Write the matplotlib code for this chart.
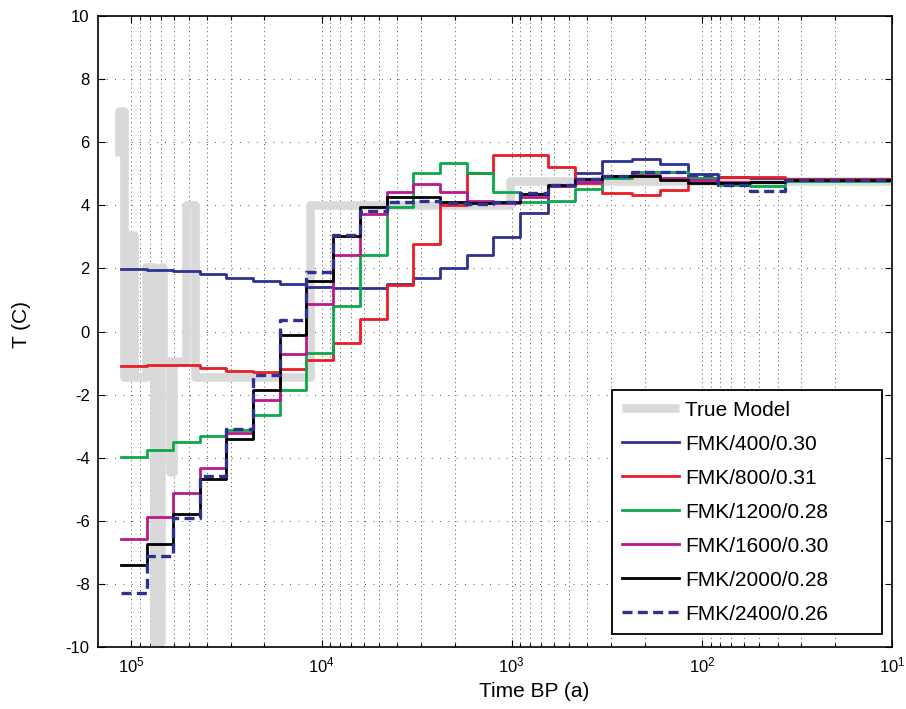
import matplotlib

matplotlib.use("Agg")

import matplotlib.pyplot as plt  # noqa: E402
import numpy as np  # noqa: E402
from matplotlib.ticker import LogLocator, NullFormatter  # noqa: E402

plt.rcParams["font.family"] = ["Liberation Sans", "DejaVu Sans"]
plt.rcParams["mathtext.fontset"] = "custom"
plt.rcParams["mathtext.rm"] = "Liberation Sans"
plt.rcParams["axes.unicode_minus"] = False

# layer boundaries (years BP), oldest first
EDGES = [113850, 83090, 60270, 43720, 31650, 22880, 16590, 12010, 8700, 6295,
         4556, 3302, 2389, 1729, 1253, 901, 643.5, 465.6, 337, 234, 166,
         118.5, 82.4, 55.9, 36.6, 10]

FMK_400 = [1.99, 1.96, 1.91, 1.82, 1.71, 1.61, 1.50, 1.42, 1.37, 1.37, 1.50,
           1.69, 2.00, 2.42, 3.00, 3.75, 4.62, 5.03, 5.40, 5.47, 5.32, 4.99,
           4.90, 4.85, 4.82]
FMK_800 = [-1.08, -1.05, -1.06, -1.15, -1.24, -1.28, -1.18, -0.90, -0.37, 0.40,
           1.48, 2.76, 4.00, 5.03, 5.59, 5.60, 5.20, 4.70, 4.40, 4.33, 4.50,
           4.88, 4.90, 4.90, 4.83]
FMK_1200 = [-3.97, -3.75, -3.51, -3.32, -3.13, -2.64, -1.85, -0.69, 0.80, 2.42,
            3.96, 5.01, 5.35, 5.01, 4.43, 4.11, 4.15, 4.52, 4.85, 5.05, 5.07,
            4.86, 4.65, 4.62, 4.77]
FMK_1600 = [-6.59, -5.88, -5.12, -4.34, -3.22, -2.18, -0.70, 0.88, 2.43, 3.72,
            4.43, 4.67, 4.41, 4.15, 4.08, 4.27, 4.62, 4.75, 4.92, 4.95, 4.86,
            4.80, 4.75, 4.75, 4.80]
FMK_2000 = [-7.41, -6.75, -5.80, -4.69, -3.42, -1.84, -0.11, 1.60, 3.04, 3.96,
            4.27, 4.27, 4.10, 4.06, 4.11, 4.36, 4.64, 4.82, 4.93, 4.93, 4.80,
            4.70, 4.70, 4.75, 4.80]
FMK_2400 = [-8.30, -7.11, -5.91, -4.57, -3.10, -1.38, 0.36, 1.90, 3.06, 3.82,
            4.11, 4.14, 4.06, 4.04, 4.11, 4.38, 4.64, 4.82, 4.93, 5.07, 5.07,
            4.96, 4.64, 4.45, 4.80]

# true model, step function (first layer has zero width)
TRUE_EDGES = [115900, 115900, 109800, 103300, 97250, 84100, 76300, 70100,
              68500, 62900, 60600, 51800, 46450, 11540, 1023, 10]
TRUE_TEMPS = [5.55, 7.0, -1.45, 3.05, -1.45, 2.03, -9.85, 2.03, -0.95, -4.45,
              -0.95, 4.0, -1.45, 4.0, 4.78]

SERIES = [
    ("FMK/400/0.30", FMK_400, "#2E3192", "-"),
    ("FMK/800/0.31", FMK_800, "#ED1C24", "-"),
    ("FMK/1200/0.28", FMK_1200, "#0DA84B", "-"),
    ("FMK/1600/0.30", FMK_1600, "#B8198C", "-"),
    ("FMK/2000/0.28", FMK_2000, "#000000", "-"),
    ("FMK/2400/0.26", FMK_2400, "#2E3192", "--"),
]

fig = plt.figure(figsize=(9.06, 7.09), dpi=100)
ax = fig.add_axes([98 / 906, 1 - 647 / 709, 794 / 906, 631 / 709])

ax.step(TRUE_EDGES, TRUE_TEMPS + [TRUE_TEMPS[-1]], where="post",
        color="#D9D9D9", lw=6.2, solid_joinstyle="round",
        solid_capstyle="butt", label="True Model", zorder=2)

for label, vals, color, ls in SERIES:
    if ls == "--":
        kw = dict(lw=2.4, dashes=(3, 1.6))
    else:
        kw = dict(lw=2.0)
    ax.step(EDGES, vals + [vals[-1]], where="post", color=color,
            label=label, zorder=3, **kw)

ax.set_xscale("log")
ax.set_xlim(1.5e5, 10)
ax.set_ylim(-10, 10)
ax.set_yticks(np.arange(-10, 11, 2))
ax.xaxis.set_major_locator(LogLocator(base=10, numticks=10))
ax.xaxis.set_minor_locator(LogLocator(base=10, subs=np.arange(2, 10), numticks=10))
ax.xaxis.set_minor_formatter(NullFormatter())

ax.grid(which="major", axis="y", color="0.1", lw=0.6, dashes=(1, 9))
ax.grid(which="both", axis="x", color="0.1", lw=0.6, dashes=(1, 4.2))
ax.set_axisbelow(True)

ax.tick_params(which="both", direction="in", top=True, right=True,
               labelsize=12, width=0.8)
ax.tick_params(which="major", length=5, pad=6)
ax.tick_params(which="minor", length=3)
for sp in ax.spines.values():
    sp.set_linewidth(1.2)

ax.set_xlabel("Time BP (a)", fontsize=15)
ax.set_ylabel("T (C)", fontsize=15)
ax.xaxis.set_label_coords((534 - 98) / 794, -(682 - 647) / 631)
ax.yaxis.set_label_coords(-(98 - 31) / 794, (647 - 325) / 631)

leg = ax.legend(loc="lower left",
                bbox_to_anchor=((612 - 98) / 794, (647 - 634) / 631,
                                (882 - 612) / 794, 0.0),
                mode="expand", borderaxespad=0, fontsize=15,
                handlelength=2.7, handletextpad=0.3, labelspacing=0.72,
                fancybox=False, framealpha=1, edgecolor="black",
                borderpad=0.5)
leg.get_frame().set_linewidth(1.3)

fig.savefig("out.png", dpi=100)
